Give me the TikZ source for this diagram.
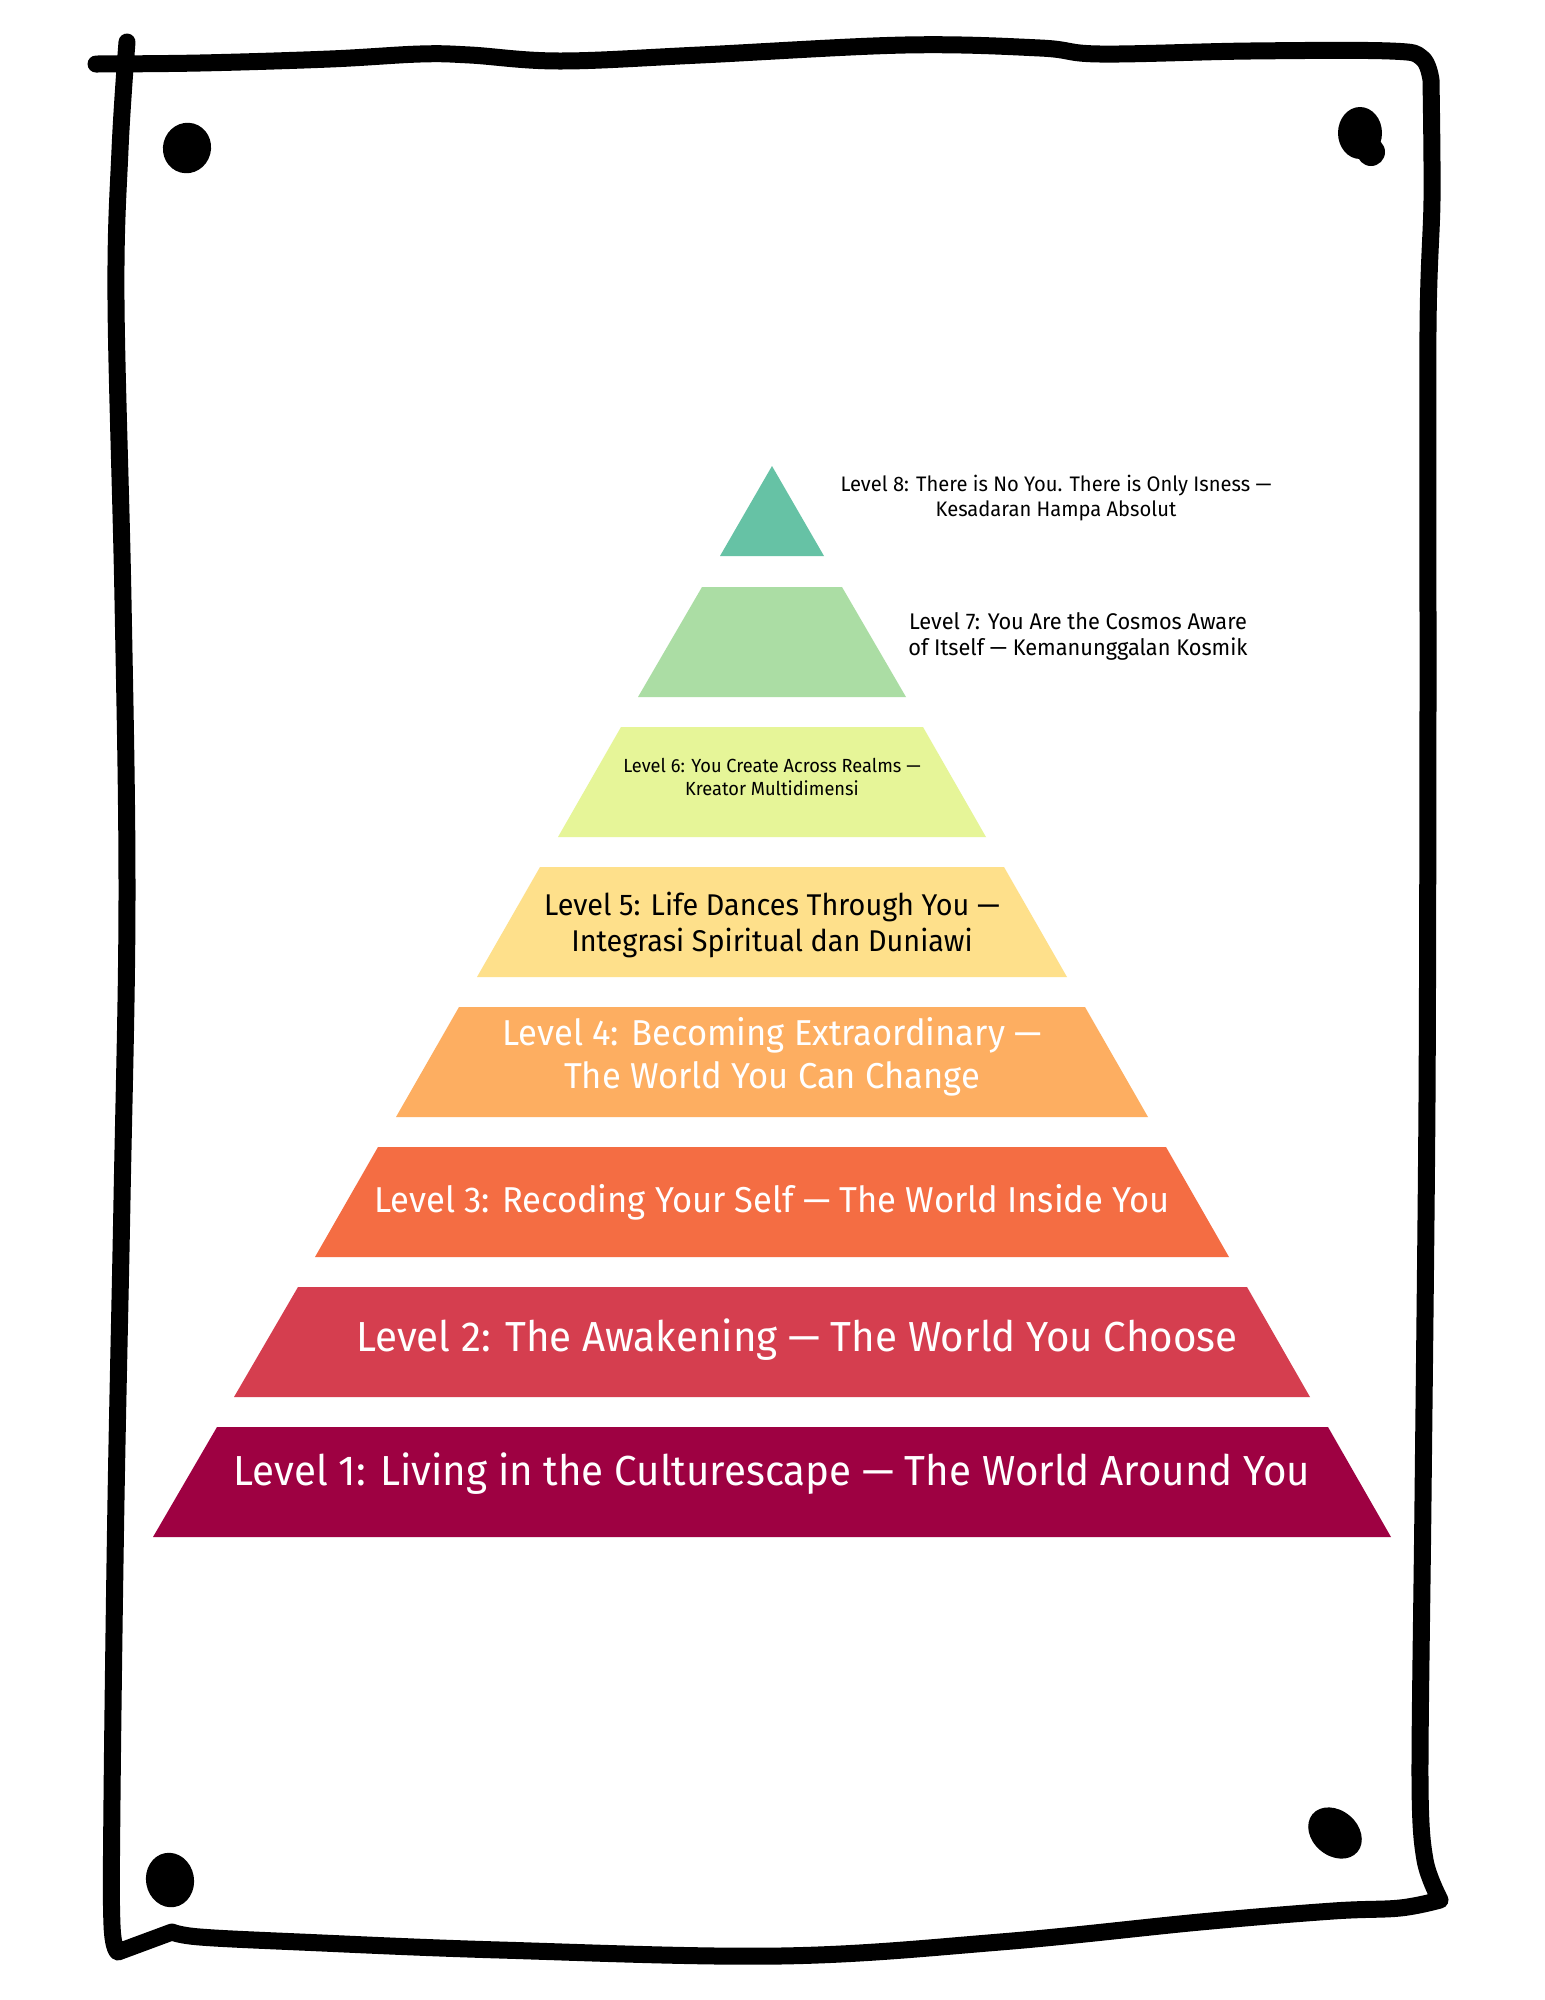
\documentclass[tikz,border=0pt]{standalone}
\usepackage{fontspec}
\setmainfont{Fira Sans}[FakeStretch=0.96]
\usepackage{tikz}
\usepackage{xcolor}

\definecolor{lvone}{HTML}{9E0142}
\definecolor{lvtwo}{HTML}{D53E4F}
\definecolor{lvthree}{HTML}{F46D43}
\definecolor{lvfour}{HTML}{FDAE61}
\definecolor{lvfive}{HTML}{FEE08B}
\definecolor{lvsix}{HTML}{E6F598}
\definecolor{lvseven}{HTML}{ABDDA4}
\definecolor{lveight}{HTML}{66C2A5}

\begin{document}
\begin{tikzpicture}[x=0.75pt,y=-0.75pt,
    sketch/.style={line width=12.75pt, line cap=round, line join=round},
    tag/.style={align=center, inner sep=0pt}]
\useasboundingbox (0,0) rectangle (1545,2000);
\fill[white] (0,0) rectangle (1545,2000);

% hand drawn frame
\draw[sketch] plot[smooth, tension=0.6] coordinates {(96,64) (200,63) (330,59) (420,54) (470,55) (560,61) (700,55) (905,45) (1040,48) (1100,54) (1250,51) (1390,51) (1422,58) (1431,80)}
  -- plot[smooth, tension=0.5] coordinates {(1431,80) (1432,200) (1428,330) (1428,700) (1427,1100) (1423,1500) (1420,1780) (1425,1860) (1440,1900)}
  -- plot[smooth, tension=0.6] coordinates {(1440,1900) (1400,1908) (1333,1911) (1200,1922) (1000,1942) (780,1956) (500,1950) (300,1942) (200,1937) (172,1932)}
  -- (118,1952)
  -- plot[smooth, tension=0.6] coordinates {(118,1952) (112,1925) (112,1800) (116,1500) (122,1200) (127,900) (123,600) (116,300) (120,150) (127,42)};

% corner dots
\fill[rotate around={-15:(187,148)}] (187,148) ellipse (18pt and 19pt);
\fill (1360,133) ellipse (16.5pt and 19.5pt);
\fill (1371,152) circle (10.5pt);
\fill[rotate around={10:(170,1880)}] (170,1880) ellipse (18pt and 20.5pt);
\fill[rotate around={-40:(1335,1833)}] (1335,1833) ellipse (22pt and 17pt);

% pyramid
\fill[lveight] (772,466) -- (824,556) -- (720,556) -- cycle;
\fill[lvseven] (702,587) -- (842,587) -- (906,697) -- (638,697) -- cycle;
\fill[lvsix] (621,727) -- (923,727) -- (986,837) -- (558,837) -- cycle;
\fill[lvfive] (540,867) -- (1004,867) -- (1067,977) -- (477,977) -- cycle;
\fill[lvfour] (459,1007) -- (1085,1007) -- (1148,1117) -- (396,1117) -- cycle;
\fill[lvthree] (378,1147) -- (1166,1147) -- (1229,1257) -- (315,1257) -- cycle;
\fill[lvtwo] (298,1287) -- (1247,1287) -- (1310,1397) -- (234,1397) -- cycle;
\fill[lvone] (217,1427) -- (1328,1427) -- (1391,1537) -- (153,1537) -- cycle;

% labels
\node[tag, font=\fontsize{15.75}{19}\selectfont] (t8) at (1056,498) {Level 8: There is No You. There is Only Isness —\\Kesadaran Hampa Absolut};
\node[tag, font=\fontsize{17}{19.5}\selectfont] (t7) at (1078,636) {Level 7: You Are the Cosmos Aware\\of Itself — Kemanunggalan Kosmik};
\node[tag, font=\fontsize{14.25}{17.25}\selectfont] (t6) at (772,777) {Level 6: You Create Across Realms —\\Kreator Multidimensi};
\node[tag, font=\fontsize{22.5}{27}\selectfont] (t5) at (772,925) {Level 5: Life Dances Through You —\\Integrasi Spiritual dan Duniawi};
\node[tag, text=white, font=\fontsize{27}{32.25}\selectfont] (t4) at (772,1057) {Level 4: Becoming Extraordinary —\\The World You Can Change};
\node[tag, text=white, font=\fontsize{27}{32}\selectfont] (t3) at (772,1202) {Level 3: Recoding Your Self — The World Inside You};
\node[tag, text=white, font=\fontsize{31.5}{38}\selectfont] (t2) at (797,1340) {Level 2: The Awakening — The World You Choose};
\node[tag, text=white, font=\fontsize{31.5}{38}\selectfont] (t1) at (772,1474) {Level 1: Living in the Culturescape — The World Around You};
\end{tikzpicture}
\end{document}
